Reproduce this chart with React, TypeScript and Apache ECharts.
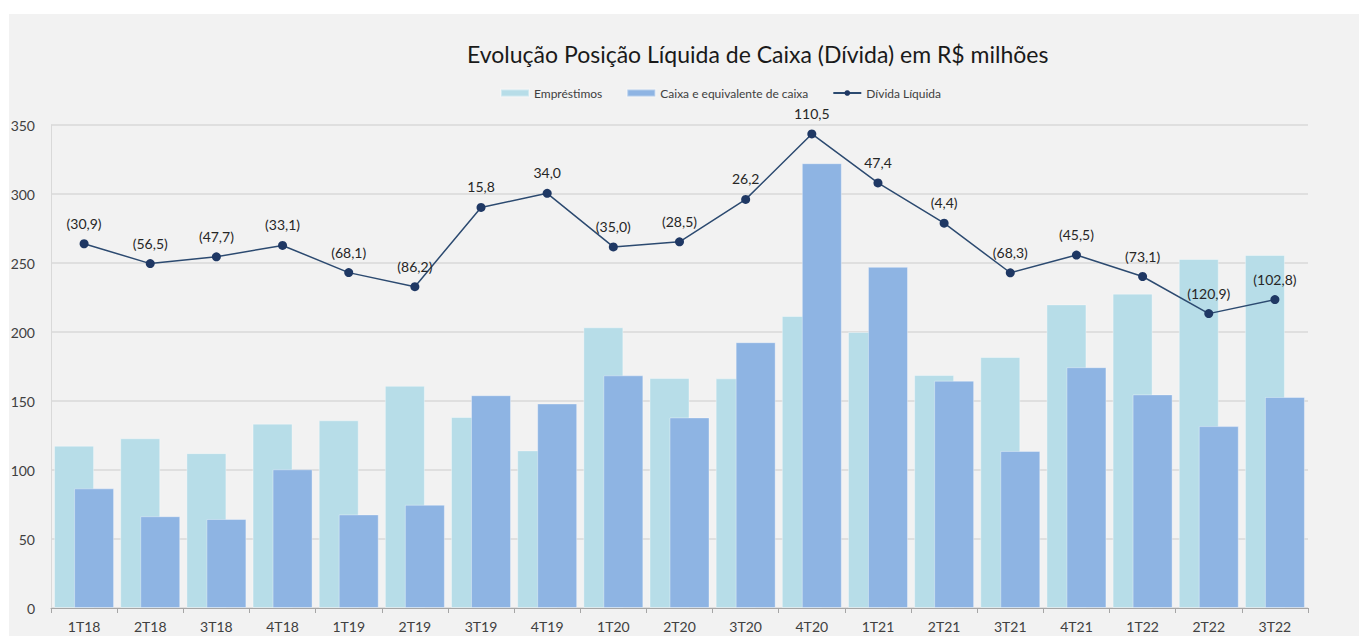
import React, { useEffect, useRef } from "react";
import * as echarts from "echarts";

const categories = ["1T18", "2T18", "3T18", "4T18", "1T19", "2T19", "3T19", "4T19", "1T20", "2T20", "3T20", "4T20", "1T21", "2T21", "3T21", "4T21", "1T22", "2T22", "3T22"];
const emprestimos = [117.6, 123.0, 112.2, 133.6, 136.0, 161.0, 138.4, 114.2, 203.4, 166.6, 166.4, 211.6, 200.0, 168.8, 181.9, 220.0, 227.8, 252.9, 255.8];
const caixa = [86.7, 66.5, 64.5, 100.5, 67.8, 74.8, 154.2, 148.2, 168.6, 138.1, 192.6, 322.3, 247.2, 164.7, 113.8, 174.5, 154.8, 131.8, 152.9];
const dividaLiquida = [-30.9, -56.5, -47.7, -33.1, -68.1, -86.2, 15.8, 34.0, -35.0, -28.5, 26.2, 110.5, 47.4, -4.4, -68.3, -45.5, -73.1, -120.9, -102.8];
const yTicks = { min: 0, max: 350, interval: 50 };

const FONT = "Lato, 'Open Sans', sans-serif";

function fmt(v: number): string {
  const s = Math.abs(v).toFixed(1).replace(".", ",");
  return v < 0 ? `(${s})` : s;
}

export default function App() {
  const ref = useRef<HTMLDivElement>(null);
  useEffect(() => {
    if (!ref.current) return;
    const chart = echarts.init(ref.current, undefined, { renderer: "svg" });
    chart.setOption({
      animation: false,
      backgroundColor: "#FFFFFF",
      textStyle: { fontFamily: FONT },
      graphic: [
        {
          type: "rect",
          z: -10,
          silent: true,
          shape: { x: 9, y: 14, width: 1350, height: 622 },
          style: { fill: "#F2F2F2" },
        },
      ],
      title: {
        text: "Evolução Posição Líquida de Caixa (Dívida) em R$ milhões",
        left: 462,
        top: 37,
        textStyle: { fontFamily: FONT, fontSize: 23, fontWeight: "normal", color: "#1a1a1a" },
      },
      legend: {
        left: 495,
        top: 82,
        itemWidth: 28,
        itemHeight: 7,
        itemGap: 24,
        textStyle: { fontFamily: FONT, fontSize: 12, color: "#404040" },
        data: [
          { name: "Empréstimos", icon: "rect" },
          { name: "Caixa e equivalente de caixa", icon: "rect" },
          { name: "Dívida Líquida" },
        ],
      },
      grid: { left: 51, right: 51, top: 125, bottom: 28, containLabel: false },
      xAxis: {
        type: "category",
        data: categories,
        boundaryGap: true,
        axisLine: { show: true, lineStyle: { color: "#A6A6A6", width: 1 } },
        axisTick: { show: true, length: 5, lineStyle: { color: "#A6A6A6" } },
        axisLabel: { fontFamily: FONT, fontSize: 14, color: "#404040", margin: 11 },
      },
      yAxis: [
        {
          type: "value",
          min: yTicks.min,
          max: yTicks.max,
          interval: yTicks.interval,
          axisLine: { show: true, lineStyle: { color: "#D9D9D9" } },
          axisTick: { show: false },
          axisLabel: { fontFamily: FONT, fontSize: 14, color: "#404040", margin: 16 },
          splitLine: { show: true, lineStyle: { color: "#D9D9D9", width: 1.5 } },
        },
        {
          type: "value",
          min: -500,
          max: 122,
          show: false,
          splitLine: { show: false },
        },
      ],
      series: [
        {
          name: "Empréstimos",
          type: "bar",
          data: emprestimos,
          barWidth: 40,
          barGap: "-50%",
          itemStyle: { color: "#B7DDE8", borderColor: "rgba(255,255,255,0.35)", borderWidth: 1 },
        },
        {
          name: "Caixa e equivalente de caixa",
          type: "bar",
          data: caixa,
          barWidth: 40,
          barGap: "-50%",
          itemStyle: { color: "#8EB4E3", borderColor: "rgba(255,255,255,0.35)", borderWidth: 1 },
        },
        {
          name: "Dívida Líquida",
          type: "line",
          yAxisIndex: 1,
          data: dividaLiquida,
          symbol: "circle",
          symbolSize: 9,
          lineStyle: { color: "#2C4A70", width: 1.5 },
          itemStyle: { color: "#1F3864" },
          label: {
            show: true,
            position: "top",
            distance: 9,
            fontFamily: FONT,
            fontSize: 14,
            color: "#262626",
            formatter: (p: any) => fmt(p.value as number),
          },
          z: 5,
        },
      ],
    });
    return () => chart.dispose();
  }, []);
  return (
    <div
      ref={ref}
      style={{ position: "fixed", left: 0, top: 0, width: 1359, height: 636 }}
    />
  );
}
